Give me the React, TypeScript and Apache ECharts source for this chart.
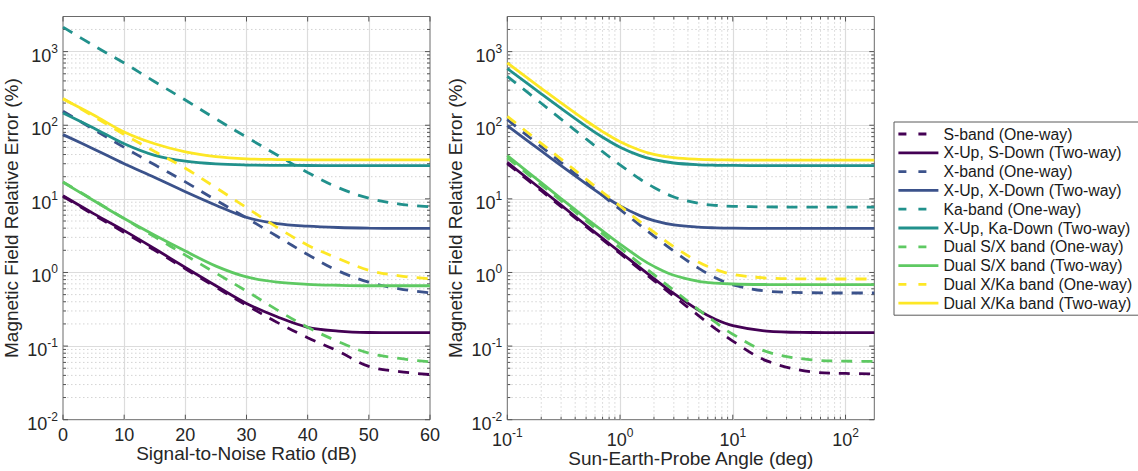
import React, { useEffect, useRef } from 'react';
import * as echarts from 'echarts';

// ---------------- data ----------------
const seriesNames = [
  'S-band (One-way)',
  'X-Up, S-Down (Two-way)',
  'X-band (One-way)',
  'X-Up, X-Down (Two-way)',
  'Ka-band (One-way)',
  'X-Up, Ka-Down (Two-way)',
  'Dual S/X band (One-way)',
  'Dual S/X band (Two-way)',
  'Dual X/Ka band (One-way)',
  'Dual X/Ka band (Two-way)',
];

// Left panel: Signal-to-Noise Ratio (dB)
const snrDb = [0, 5, 10, 15, 20, 25, 30, 35, 40, 45, 50, 55, 60];
const snrSBandOneWay = [10.8, 6.1, 3.5, 2.0, 1.12, 0.63, 0.36, 0.21, 0.13, 0.085, 0.053, 0.045, 0.041];
const snrXUpSDown = [11, 6.3, 3.7, 2.1, 1.17, 0.66, 0.38, 0.25, 0.18, 0.16, 0.153, 0.152, 0.152];
const snrXBandOneWay = [155, 88, 50, 29, 17, 9.6, 5.5, 3.1, 1.75, 1.05, 0.74, 0.6, 0.53];
const snrXUpXDown = [74.6, 47.7, 30, 19.5, 12.5, 8.2, 5.6, 4.6, 4.25, 4.08, 4.0, 3.97, 3.97];
const snrKaBandOneWay = [2150, 1210, 700, 390, 220, 122, 69, 39.5, 22.8, 14.2, 10.2, 8.5, 7.8];
const snrXUpKaDown = [147, 92, 56, 39, 32.5, 29.8, 28.8, 28.5, 28.4, 28.3, 28.3, 28.3, 28.3];
const snrDualSXOneWay = [17, 9.6, 5.4, 3.05, 1.72, 0.98, 0.56, 0.31, 0.18, 0.115, 0.08, 0.068, 0.061];
const snrDualSXTwoWay = [16.8, 9.5, 5.4, 3.2, 1.95, 1.22, 0.87, 0.74, 0.69, 0.67, 0.66, 0.66, 0.66];
const snrDualXKaOneWay = [232, 132, 75, 44, 26, 14.2, 7.6, 4.1, 2.35, 1.55, 1.07, 0.9, 0.82];
const snrDualXKaTwoWay = [227, 138, 81, 56, 43.5, 37.5, 35, 34.2, 33.95, 33.85, 33.8, 33.8, 33.8];

// Right panel: Sun-Earth-Probe Angle (deg)
const sepDeg = [0.1, 0.2, 0.3, 0.5, 0.7, 1, 1.5, 2, 3, 5, 7, 10, 20, 50, 100, 180];
const sepSBandOneWay = [30, 12.9, 7.86, 4.2, 2.79, 1.81, 1.1, 0.777, 0.476, 0.257, 0.173, 0.117, 0.063, 0.0447, 0.0425, 0.042];
const sepXUpSDown = [31.3, 13.5, 8.2, 4.38, 2.91, 1.89, 1.16, 0.825, 0.518, 0.305, 0.232, 0.19, 0.16, 0.153, 0.152, 0.152];
const sepXBandOneWay = [119, 51.2, 31.2, 16.7, 11.1, 7.18, 4.4, 3.12, 1.95, 1.135, 0.85, 0.68, 0.558, 0.53, 0.526, 0.526];
const sepXUpXDown = [98.7, 44.7, 28.2, 16.0, 11.2, 8.03, 5.92, 5.07, 4.43, 4.12, 4.04, 4.0, 3.97, 3.97, 3.97, 3.97];
const sepKaBandOneWay = [462, 199, 121, 65.2, 43.7, 28.9, 18.6, 14.3, 10.6, 8.67, 8.17, 7.92, 7.77, 7.74, 7.74, 7.74];
const sepXUpKaDown = [589, 267, 169, 96.5, 68.8, 50.3, 38.6, 34.0, 30.7, 29.0, 28.6, 28.45, 28.3, 28.3, 28.3, 28.3];
const sepDualSXOneWay = [36, 15.5, 9.43, 5.04, 3.35, 2.17, 1.32, 0.932, 0.572, 0.31, 0.211, 0.145, 0.084, 0.065, 0.0625, 0.062];
const sepDualSXTwoWay = [38.6, 16.6, 10.1, 5.44, 3.66, 2.43, 1.57, 1.21, 0.916, 0.757, 0.717, 0.697, 0.686, 0.683, 0.683, 0.683];
const sepDualXKaOneWay = [132, 56.8, 34.6, 18.5, 12.3, 8.0, 4.91, 3.52, 2.24, 1.38, 1.1, 0.945, 0.84, 0.818, 0.815, 0.815];
const sepDualXKaTwoWay = [701, 318, 201, 115, 82, 59.8, 45.8, 40.2, 36.3, 34.4, 33.9, 33.7, 33.55, 33.5, 33.5, 33.5];

// Tick labels
const leftXTicks = [0, 10, 20, 30, 40, 50, 60];
const rightXTickExps = [-1, 0, 1, 2];
const yTickExps = [-2, -1, 0, 1, 2, 3];

// ---------------- styling ----------------
const FONT = '"Liberation Sans", Arial, Helvetica, sans-serif';
const TXT = '#262626';
const COLORS = ['#440154', '#440154', '#3b528b', '#3b528b', '#21918c', '#21918c', '#5ec962', '#5ec962', '#fde725', '#fde725'];
const DASHED = [true, false, true, false, true, false, true, false, true, false];
const DASH = [11, 9];
const MAJOR_GRID = '#dcdcdc';
const MINOR_GRID = '#d4d4d4';
const TICK = '#555555';
const BOX = '#6a6a6a';

const snrSeries = [
  snrSBandOneWay, snrXUpSDown, snrXBandOneWay, snrXUpXDown, snrKaBandOneWay,
  snrXUpKaDown, snrDualSXOneWay, snrDualSXTwoWay, snrDualXKaOneWay, snrDualXKaTwoWay,
];
const sepSeries = [
  sepSBandOneWay, sepXUpSDown, sepXBandOneWay, sepXUpXDown, sepKaBandOneWay,
  sepXUpKaDown, sepDualSXOneWay, sepDualSXTwoWay, sepDualXKaOneWay, sepDualXKaTwoWay,
];

const Y_MIN = 0.01;
const Y_MAX = 3000;
const LX: [number, number] = [0, 60];
const RX: [number, number] = [0.1, 180];

function decadeMinors(lo: number, hi: number): number[] {
  const out: number[] = [];
  for (let e = Math.floor(Math.log10(lo)); e <= Math.ceil(Math.log10(hi)); e++) {
    for (let m = 2; m <= 9; m++) {
      const v = m * Math.pow(10, e);
      if (v > lo * 1.0001 && v < hi * 0.9999) out.push(v);
    }
  }
  return out;
}
function decades(lo: number, hi: number): number[] {
  const out: number[] = [];
  for (let e = Math.ceil(Math.log10(lo) - 1e-9); e <= Math.floor(Math.log10(hi) + 1e-9); e++) out.push(Math.pow(10, e));
  return out;
}

const expLabel = (e: number) => `{b|10}{e|${e}}`;
const isExp = (v: number, list: number[]) => {
  const l = Math.log10(v);
  const e = Math.round(l);
  return Math.abs(l - e) < 1e-6 && list.includes(e) ? e : null;
};

const rich = {
  b: { fontSize: 18, fontFamily: FONT, color: TXT, lineHeight: 22, verticalAlign: 'bottom' },
  e: { fontSize: 12, fontFamily: FONT, color: TXT, lineHeight: 12, verticalAlign: 'top' },
};

type DecorItem = { kind: 'xMaj' | 'xMin' | 'yMaj' | 'yMin'; v: number };

function decorSeries(gridIndex: number, xr: [number, number], yr: [number, number], xMaj: number[], xMin: number[], yMaj: number[], yMin: number[]) {
  const items: DecorItem[] = [
    ...yMin.map((v) => ({ kind: 'yMin' as const, v })),
    ...xMin.map((v) => ({ kind: 'xMin' as const, v })),
    ...yMaj.map((v) => ({ kind: 'yMaj' as const, v })),
    ...xMaj.map((v) => ({ kind: 'xMaj' as const, v })),
  ];
  const data = items.map((it) => (it.kind[0] === 'y' ? [xr[0], it.v] : [it.v, yr[0]]));
  return {
    type: 'custom',
    xAxisIndex: gridIndex,
    yAxisIndex: gridIndex,
    silent: true,
    z: 1,
    data,
    renderItem: (params: any, api: any) => {
      const it = items[params.dataIndex];
      const isY = it.kind[0] === 'y';
      const minor = it.kind.endsWith('Min');
      const len = minor ? 3 : 5;
      const a = isY ? api.coord([xr[0], it.v]) : api.coord([it.v, yr[0]]);
      const b = isY ? api.coord([xr[1], it.v]) : api.coord([it.v, yr[1]]);
      const children: any[] = [];
      if (minor) {
        children.push({
          type: 'line',
          shape: { x1: a[0], y1: a[1], x2: b[0], y2: b[1] },
          style: { stroke: MINOR_GRID, lineWidth: 1, lineDash: [1.5, 2.5] },
        });
      }
      const ts = { stroke: TICK, lineWidth: 1 };
      if (isY) {
        children.push({ type: 'line', shape: { x1: a[0], y1: a[1], x2: a[0] + len, y2: a[1] }, style: ts });
        children.push({ type: 'line', shape: { x1: b[0] - len, y1: b[1], x2: b[0], y2: b[1] }, style: ts });
      } else {
        children.push({ type: 'line', shape: { x1: a[0], y1: a[1], x2: a[0], y2: a[1] - len }, style: ts });
        children.push({ type: 'line', shape: { x1: b[0], y1: b[1], x2: b[0], y2: b[1] + len }, style: ts });
      }
      return { type: 'group', children };
    },
  };
}

function yAxis(gridIndex: number) {
  return {
    type: 'log',
    gridIndex,
    logBase: 10,
    min: Y_MIN,
    max: Y_MAX,
    axisLine: { show: false },
    axisTick: { show: false },
    splitLine: { show: true, showMinLine: false, showMaxLine: false, lineStyle: { color: MAJOR_GRID, width: 1.2 } },
    axisLabel: {
      margin: 5,
      padding: [4, 0, 0, 0],
      formatter: (v: number) => {
        const e = isExp(v, yTickExps);
        return e === null ? '' : expLabel(e);
      },
      rich,
    },
    name: 'Magnetic Field Relative Error (%)',
    nameLocation: 'middle',
    nameGap: 42,
    nameMoveOverlap: false,
    nameTextStyle: { fontSize: 19, fontFamily: FONT, color: TXT, lineHeight: 19 },
  };
}

function lineSeries(xs: number[], ys: number[][], gridIndex: number) {
  return ys.map((vals, i) => ({
    type: 'line',
    name: seriesNames[i],
    xAxisIndex: gridIndex,
    yAxisIndex: gridIndex,
    data: xs.map((x, k) => [x, vals[k]]),
    symbol: 'none',
    showSymbol: false,
    smooth: 0.35,
    z: 3 + i * 0.01,
    color: COLORS[i],
    lineStyle: { color: COLORS[i], width: 2.8, type: DASHED[i] ? DASH : 'solid' },
  }));
}

const gridCommon = {
  show: true,
  borderColor: BOX,
  borderWidth: 1,
  backgroundColor: '#fff',
  containLabel: false,
  outerBoundsMode: 'none',
};

const option: any = {
  animation: false,
  backgroundColor: '#ffffff',
  grid: [
    { ...gridCommon, left: 63, top: 16.5, width: 367, height: 403.2 },
    { ...gridCommon, left: 507.3, top: 16.5, width: 367, height: 403.2 },
  ],
  xAxis: [
    {
      type: 'value',
      gridIndex: 0,
      min: LX[0],
      max: LX[1],
      interval: 10,
      axisLine: { show: false },
      axisTick: { show: false },
      splitLine: { show: true, showMinLine: false, showMaxLine: false, lineStyle: { color: MAJOR_GRID, width: 1.2 } },
      axisLabel: {
        margin: 6,
        fontSize: 18,
        lineHeight: 18,
        fontFamily: FONT,
        color: TXT,
        formatter: (v: number) => (leftXTicks.includes(v) ? String(v) : ''),
      },
      name: 'Signal-to-Noise Ratio (dB)',
      nameLocation: 'middle',
      nameGap: 23,
      nameMoveOverlap: false,
      nameTextStyle: { fontSize: 19, fontFamily: FONT, color: TXT, lineHeight: 22 },
    },
    {
      type: 'log',
      gridIndex: 1,
      logBase: 10,
      min: RX[0],
      max: RX[1],
      axisLine: { show: false },
      axisTick: { show: false },
      splitLine: { show: true, showMinLine: false, showMaxLine: false, lineStyle: { color: MAJOR_GRID, width: 1.2 } },
      axisLabel: {
        margin: 7,
        formatter: (v: number) => {
          const e = isExp(v, rightXTickExps);
          return e === null ? '' : expLabel(e);
        },
        rich,
      },
      name: 'Sun-Earth-Probe Angle (deg)',
      nameLocation: 'middle',
      nameGap: 28,
      nameMoveOverlap: false,
      nameTextStyle: { fontSize: 19, fontFamily: FONT, color: TXT, lineHeight: 22 },
    },
  ],
  yAxis: [yAxis(0), yAxis(1)],
  legend: {
    orient: 'vertical',
    left: 894,
    top: 122,
    itemWidth: 40,
    itemHeight: 14,
    itemGap: 2.8,
    padding: [4, 8, 4, 3],
    borderColor: '#5a5a5a',
    borderWidth: 1,
    backgroundColor: '#ffffff',
    textStyle: { fontSize: 15.8, fontFamily: FONT, color: '#1a1a1a', lineHeight: 14 },
    itemStyle: { opacity: 0 },
    data: seriesNames.map((n, i) => ({
      name: n,
      lineStyle: { type: DASHED[i] ? [8, 12] : 'solid', width: 2.8, color: COLORS[i] },
    })),
  },
  series: [
    decorSeries(0, LX, [Y_MIN, Y_MAX], leftXTicks, [], decades(Y_MIN, Y_MAX), decadeMinors(Y_MIN, Y_MAX)),
    decorSeries(1, RX, [Y_MIN, Y_MAX], decades(RX[0], RX[1]), decadeMinors(RX[0], RX[1]), decades(Y_MIN, Y_MAX), decadeMinors(Y_MIN, Y_MAX)),
    ...lineSeries(snrDb, snrSeries, 0),
    ...lineSeries(sepDeg, sepSeries, 1),
  ],
};

export default function App() {
  const ref = useRef<HTMLDivElement>(null);
  useEffect(() => {
    document.body.style.margin = '0';
    const chart = echarts.init(ref.current as HTMLDivElement, undefined, { renderer: 'svg' });
    chart.setOption(option);
    return () => chart.dispose();
  }, []);
  return (
    <div
      ref={ref}
      style={{ position: 'absolute', left: 0, top: 0, width: 1138, height: 471, background: '#fff' }}
    />
  );
}
